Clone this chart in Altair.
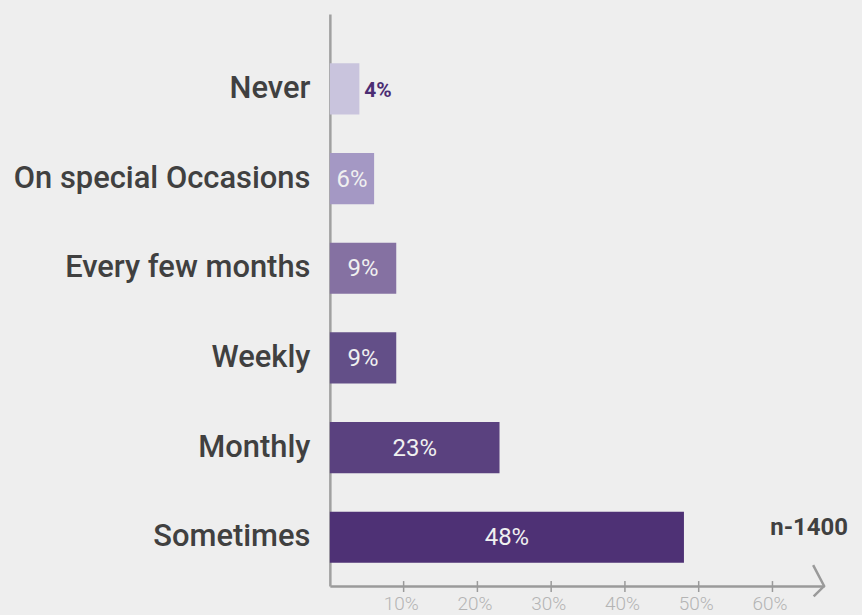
import altair as alt
import pandas as pd
import jinja2

categories = ["Never", "On special Occasions", "Every few months", "Weekly", "Monthly", "Sometimes"]
values = [4, 6, 9, 9, 23, 48]
labels = ["4%", "6%", "9%", "9%", "23%", "48%"]
colors = ["#c9c4dd", "#a498c4", "#8571a2", "#634f88", "#5a417f", "#4e3175"]
tick_values = [10, 20, 30, 40, 50, 60]
note = "n-1400"

df = pd.DataFrame({"cat": categories, "val": values, "lab": labels, "col": colors})
ticks_df = pd.DataFrame({"t": tick_values})

W, H = 496, 574
XMAX = 67
BG = "#eeeeee"

xscale = alt.Scale(domain=[0, XMAX], nice=False, zero=True)
yscale = alt.Scale(domain=categories, paddingInner=0.43, paddingOuter=0.404, align=0.68)

base = alt.Chart(df)

bars = base.mark_bar().encode(
    x=alt.X("val:Q", scale=xscale,
            axis=alt.Axis(values=tick_values, format="d", labelExpr="datum.value + '%'",
                          title=None, grid=False, ticks=False, domainColor="#9a9a9a",
                          domainWidth=2.5, labelColor="#b4b4b4", labelFontSize=19,
                          labelFont="Roboto", labelFontWeight=300, labelPadding=9,
                          labelOffset=-3)),
    y=alt.Y("cat:N", scale=yscale, sort=categories,
            axis=alt.Axis(title=None, ticks=False, domainColor="#a0a0a0", domainWidth=2.5,
                          labelColor="#404040", labelFontSize=31, labelFont="Roboto",
                          labelFontWeight=500, labelPadding=20, labelLimit=0)),
    color=alt.Color("col:N", scale=None),
)

inside = base.transform_filter("datum.val >= 5").transform_calculate(
    mid="datum.val / 2"
).mark_text(font="Roboto", fontSize=24, color="#f0f0f0", baseline="middle", align="center", dy=1).encode(
    x=alt.X("mid:Q", scale=xscale),
    y=alt.Y("cat:N", scale=yscale, sort=categories),
    text="lab:N",
)

outside = base.transform_filter("datum.val < 5").mark_text(
    font="Roboto", fontSize=21, fontWeight="bold", color="#4b2d73", baseline="middle",
    align="left", dx=5, dy=2
).encode(
    x=alt.X("val:Q", scale=xscale),
    y=alt.Y("cat:N", scale=yscale, sort=categories),
    text="lab:N",
)

tick_rules = alt.Chart(ticks_df).mark_rule(color="#9a9a9a", strokeWidth=1.5).encode(
    x=alt.X("t:Q", scale=xscale),
    y=alt.value(H - 5),
    y2=alt.value(H + 6),
)

arrow = alt.Chart(pd.DataFrame({"m": [XMAX]})).mark_point(
    shape="M-1,-1.9L0,0L-0.95,0.95", filled=False, stroke="#9a9a9a", strokeWidth=2.5,
    size=484, opacity=1
).encode(
    x=alt.X("m:Q", scale=xscale),
    y=alt.value(H),
)

note_text = alt.Chart(pd.DataFrame({"n": [note]})).mark_text(
    font="Roboto", fontSize=24, fontWeight="bold", color="#404040", align="left", baseline="middle"
).encode(
    x=alt.value(442),
    y=alt.value(516),
    text="n:N",
)

chart = alt.layer(bars, inside, outside, tick_rules, arrow, note_text).properties(
    width=W, height=H,
    background=BG,
    padding={"left": 323, "top": 5, "right": 30, "bottom": 30},
    autosize=alt.AutoSizeParams(type="none"),
).configure_view(stroke=None)

embed = {"renderer": "svg", "actions": False}
try:
    html = chart.to_html(embed_options=embed)
    style = "<style>html, body { background: %s; overflow: hidden; }</style>" % BG
    if "<head>" in html:
        html = html.replace("<head>", "<head>\n" + style, 1)
    else:
        html = style + html
    tmpl = jinja2.Template("{% raw %}" + html + "{% endraw %}")
    chart.save("out.html", embed_options=embed, template=tmpl)
except Exception:
    chart.save("out.html", embed_options=embed)
